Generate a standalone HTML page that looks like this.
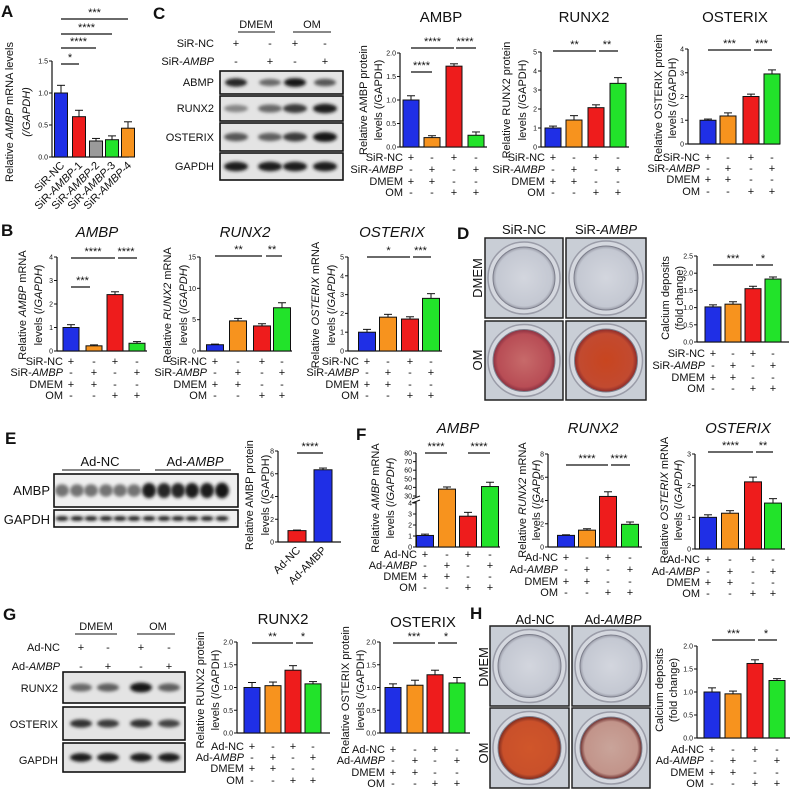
<!DOCTYPE html>
<html><head><meta charset="utf-8">
<style>
html,body{margin:0;padding:0;background:#fff;}
svg{display:block;font-family:"Liberation Sans",Arial,sans-serif;}
</style></head>
<body>
<svg id="fig" width="791" height="790" viewBox="0 0 791 790">
<defs>
<filter id="blur1" x="-20%" y="-50%" width="140%" height="200%"><feGaussianBlur stdDeviation="1.6"/></filter>
<radialGradient id="dishGray" cx="50%" cy="50%" r="50%"><stop offset="0" stop-color="#d3d6de"/><stop offset="0.9" stop-color="#c4c8d2"/><stop offset="1" stop-color="#9a9ca8"/></radialGradient>
<radialGradient id="dishRed1" cx="50%" cy="50%" r="50%"><stop offset="0" stop-color="#c76a6a"/><stop offset="0.85" stop-color="#b84d55"/><stop offset="1" stop-color="#8a3040"/></radialGradient>
<radialGradient id="dishRed2" cx="50%" cy="50%" r="50%"><stop offset="0" stop-color="#c8451f"/><stop offset="0.85" stop-color="#c24a30"/><stop offset="1" stop-color="#8a2a2a"/></radialGradient>
<radialGradient id="dishRed3" cx="50%" cy="50%" r="50%"><stop offset="0" stop-color="#d0562a"/><stop offset="0.85" stop-color="#c9502a"/><stop offset="1" stop-color="#7a2a20"/></radialGradient>
<radialGradient id="dishRed4" cx="50%" cy="50%" r="50%"><stop offset="0" stop-color="#c9a49a"/><stop offset="0.85" stop-color="#c2948a"/><stop offset="1" stop-color="#6a2a2a"/></radialGradient>
</defs>
</svg>
<script>
// ---------- data ----------
const C_BLUE='#1f2fe6', C_ORANGE='#f7931e', C_RED='#ee1c1c', C_GREEN='#22e32a', C_GRAY='#9a9a9a';
const aCats=['SiR-NC','SiR-AMBP-1','SiR-AMBP-2','SiR-AMBP-3','SiR-AMBP-4'];
const aVals=[1.0,0.63,0.25,0.27,0.45];
const aSem=[0.12,0.1,0.04,0.06,0.1];
const aTicks=[0,0.5,1.0,1.5];
const cAmbpVals=[1.0,0.2,1.72,0.25];
const cAmbpSem=[0.09,0.04,0.05,0.07];
const cAmbpTicks=[0,0.5,1.0,1.5,2.0];
const cRunxVals=[1.0,1.42,2.07,3.35];
const cRunxSem=[0.1,0.23,0.15,0.3];
const cRunxTicks=[0,1,2,3,4,5];
const cOstVals=[1.0,1.18,2.0,2.95];
const cOstSem=[0.05,0.13,0.1,0.17];
const cOstTicks=[0,1,2,3,4];
const bAmbpVals=[1.0,0.22,2.4,0.33];
const bAmbpSem=[0.12,0.04,0.12,0.07];
const bAmbpTicks=[0,1,2,3,4];
const bRunxVals=[1.0,4.8,4.0,6.9];
const bRunxSem=[0.1,0.4,0.35,0.8];
const bRunxTicks=[0,5,10,15];
const bOstVals=[1.0,1.8,1.7,2.8];
const bOstSem=[0.15,0.15,0.12,0.25];
const bOstTicks=[0,1,2,3,4,5];
const dVals=[1.02,1.1,1.55,1.83];
const dSem=[0.06,0.07,0.07,0.06];
const dTicks=[0,0.5,1.0,1.5,2.0,2.5];
const eCats=['Ad-NC','Ad-AMBP'];
const eVals=[1.0,6.35];
const eSem=[0.05,0.15];
const eTicks=[0,2,4,6,8];
const fAmbpVals=[1.05,38,2.8,41];
const fAmbpSem=[0.12,2.5,0.35,5];
const fAmbpTicksLow=[0,1,2,3,4];
const fAmbpTicksHigh=[30,40,50,60,70,80];
const fRunxVals=[1.0,1.45,4.35,1.95];
const fRunxSem=[0.05,0.12,0.4,0.2];
const fRunxTicks=[0,2,4,6,8];
const fOstVals=[1.0,1.13,2.12,1.45];
const fOstSem=[0.08,0.08,0.15,0.14];
const fOstTicks=[0,1,2,3];
const gRunxVals=[1.0,1.04,1.38,1.08];
const gRunxSem=[0.11,0.08,0.1,0.05];
const gOstVals=[1.0,1.05,1.28,1.1];
const gOstSem=[0.08,0.11,0.1,0.12];
const gTicks=[0,0.5,1.0,1.5,2.0];
const hVals=[1.0,0.96,1.62,1.25];
const hSem=[0.09,0.06,0.08,0.04];
const hTicks=[0,0.5,1.0,1.5,2.0];
const rowSiR=['SiR-NC','SiR-AMBP','DMEM','OM'];
const rowAd=['Ad-NC','Ad-AMBP','DMEM','OM'];
const rowMarks=[['+','-','+','-'],['-','+','-','+'],['+','+','-','-'],['-','-','+','+']];
const fourColors=[C_BLUE,C_ORANGE,C_RED,C_GREEN];

// ---------- helpers ----------
const NS='http://www.w3.org/2000/svg';
const svg=document.getElementById('fig');
function mk(tag,parent){const e=document.createElementNS(NS,tag);parent.appendChild(e);return e;}
function set(e,k,v){e.setAttribute(k,v);return e;}
function txt(parent,s,x,y,size,anchor){
  const t=mk('text',parent);
  set(t,'x',x);set(t,'y',y);set(t,'font-size',size);set(t,'text-anchor',anchor||'start');set(t,'fill','#111');
  t.textContent=s;return t;
}
// segments: [[text,italic],...]
function rich(parent,segs,x,y,size,anchor,rot){
  const t=mk('text',parent);
  set(t,'x',x);set(t,'y',y);set(t,'font-size',size);set(t,'text-anchor',anchor||'middle');set(t,'fill','#111');
  if(rot) set(t,'transform','rotate('+rot+' '+x+' '+y+')');
  segs.forEach(s=>{const ts=mk('tspan',t);ts.textContent=s[0];if(s[1])set(ts,'font-style','italic');});
  return t;
}
function ambpLabel(prefix){return [[prefix,0],['AMBP',1]];}
function panelLetter(ch,x,y){
  const t=txt(svg,ch,x,y,17,'start');set(t,'font-weight','bold');
  
  
}
function line(p,x1,y1,x2,y2,w,c){const l=mk('line',p);set(l,'x1',x1);set(l,'y1',y1);set(l,'x2',x2);set(l,'y2',y2);set(l,'stroke',c||'#111');set(l,'stroke-width',w||1);return l;}

function chart(cfg){
  const g=mk('g',svg);
  
  
  const scale=cfg.scale||(v=>cfg.y0-v/cfg.max*(cfg.y0-cfg.yTop));
  // axes
  const ya=line(g,cfg.ax,cfg.yTop,cfg.ax,cfg.y0,1.2);
  
  
  const xa=line(g,cfg.ax,cfg.y0,cfg.axEnd,cfg.y0,1.2);
  
  
  cfg.ticks.forEach(v=>{
    const y=scale(v);
    line(g,cfg.ax-3,y,cfg.ax,y,1);
    const t=txt(g,v.toFixed(cfg.dec||0),cfg.ax-4,y+2.5,7,'end');
    
    
  });
  if(cfg.extraAxis) cfg.extraAxis(g,scale);
  // bars
  cfg.vals.forEach((v,i)=>{
    const cx=cfg.centers[i], w=cfg.bw, yv=scale(v);
    const r=mk('rect',g);
    set(r,'x',cx-w/2);set(r,'y',yv);set(r,'width',w);set(r,'height',cfg.y0-yv);
    set(r,'fill',cfg.colors[i]);set(r,'stroke','#111');set(r,'stroke-width',1);
    
    
    const ye=scale(v+cfg.sem[i]);
    line(g,cx,yv,cx,ye,1);line(g,cx-4,ye,cx+4,ye,1);
  });
  // title
  if(cfg.title){
    const t=rich(g,[[cfg.title,cfg.titleItalic]],cfg.titleX,cfg.titleY,15,'middle');
    
    
  }
  // y titles
  cfg.ytitle.forEach(yt=>{
    const t=rich(g,yt.segs,yt.x+4,cfg.ycy,11,'middle',-90);
    
    
  });
  // significance
  (cfg.sig||[]).forEach(s=>{
    line(g,cfg.centers[s[0]]-(s[3]||0),s[2],cfg.centers[s[1]]+(s[4]||0),s[2],1.2);
    const t=txt(g,s[5],(cfg.centers[s[0]]+cfg.centers[s[1]])/2,s[2]-3,11,'middle');
    
    
  });
  // condition rows
  if(cfg.rows){
    cfg.rows.forEach((lab,ri)=>{
      const y=cfg.rowYs[ri];
      let segs=[[lab,0]];
      if(lab.indexOf('AMBP')>0) segs=ambpLabel(lab.replace('AMBP',''));
      const t=rich(g,segs,cfg.centers[0]-8,y,11,'end');
      
      
      rowMarks[ri].forEach((m,i)=>{txt(g,m,cfg.centers[i],y,11,'middle');});
    });
  }
  // rotated x labels
  if(cfg.xcats){
    cfg.xcats.forEach((c,i)=>{
      let segs=[[c,0]];
      if(cfg.italicCats){const k=c.indexOf('AMBP');if(k>=0)segs=[[c.slice(0,k),0],['AMBP',1],[c.slice(k+4),0]];}
      const t=rich(g,segs,cfg.centers[i]+4,cfg.y0+9,11,'end',-45);
      
      
    });
  }
  return g;
}

function blot(name,x,y,w,h,lanes,intens,bw,bh,bg){
  const g=mk('g',svg);
  
  
  const r=mk('rect',g);set(r,'x',x);set(r,'y',y);set(r,'width',w);set(r,'height',h);set(r,'fill',bg||'#e4e4e4');set(r,'stroke','#111');set(r,'stroke-width',1.6);
  lanes.forEach((lx,i)=>{
    const e=mk('ellipse',g);set(e,'cx',lx);set(e,'cy',y+h/2);set(e,'rx',bw/2);set(e,'ry',bh/2*(0.6+0.4*intens[i]));
    set(e,'fill','rgb('+Math.round(200-190*intens[i])+','+Math.round(200-190*intens[i])+','+Math.round(200-190*intens[i])+')');
    set(e,'filter','url(#blur1)');
  });
}
function dish(name,x,y,w,h,fill){
  const g=mk('g',svg);
  
  
  const r=mk('rect',g);set(r,'x',x);set(r,'y',y);set(r,'width',w);set(r,'height',h);set(r,'fill','#c9ced6');set(r,'stroke','#222');set(r,'stroke-width',1.5);
  const c=mk('circle',g);set(c,'cx',x+w/2);set(c,'cy',y+h/2);set(c,'r',Math.min(w,h)/2-3);set(c,'fill','#d5d8df');set(c,'stroke','#9a9ca8');set(c,'stroke-width',1.5);
  const c2=mk('circle',g);set(c2,'cx',x+w/2);set(c2,'cy',y+h/2);set(c2,'r',Math.min(w,h)/2-8);set(c2,'fill',fill);set(c2,'stroke','#7d7f8c');set(c2,'stroke-width',1);
}

// ---------- Panel A ----------
panelLetter('A',1,17);
chart({name:'panel-a-chart',ax:52,axEnd:129,y0:157,yTop:61,max:1.5,ticks:aTicks,dec:1,
  centers:[61,79,96,112,128],bw:13,vals:aVals,sem:aSem,colors:[C_BLUE,C_RED,C_GRAY,C_GREEN,C_ORANGE],
  ytitle:[{x:9,segs:[['Relative ',0],['AMBP',1],[' mRNA levels',0]]},{x:26,segs:[['(/GAPDH)',1]]}],ycy:112,
  sig:[[0,1,64,0,0,'*'],[0,2,48,0,0,'****'],[0,3,34,0,0,'****'],[0,4,19,0,0,'***']],
  xcats:aCats,italicCats:true});

// ---------- Panel C ----------
panelLetter('C',153,19);
(function(){
  const g=mk('g',svg);
  
  
  txt(g,'DMEM',256,28,11,'middle');line(g,238,32,275,32,1);
  txt(g,'OM',312,28,11,'middle');line(g,293,32,331,32,1);
  txt(g,'SiR-NC',214,47,11,'end');rich(g,[['SiR-',0],['AMBP',1]],214,65,11,'end');
  ['+','-','+','-'].forEach((m,i)=>txt(g,m,[236,270,295,325][i],47,11,'middle'));
  ['-','+','-','+'].forEach((m,i)=>txt(g,m,[236,270,295,325][i],65,11,'middle'));
  txt(g,'ABMP',214,86,11,'end');txt(g,'RUNX2',214,112,11,'end');txt(g,'OSTERIX',214,141,11,'end');txt(g,'GAPDH',214,170,11,'end');
})();
blot('blot-c-abmp',220,71,123,23,[236,270,295,325],[0.85,0.5,0.95,0.6],22,9);
blot('blot-c-runx2',220,96,123,25,[236,270,295,325],[0.35,0.5,0.75,0.9],24,10);
blot('blot-c-osterix',220,123,123,28,[236,270,295,325],[0.6,0.55,0.75,0.95],24,10);
blot('blot-c-gapdh',220,153,123,27,[236,270,295,325],[0.9,0.9,0.9,0.9],24,10);
chart({name:'panel-c-ambp-chart',ax:400,axEnd:487,y0:147,yTop:53,max:2,ticks:cAmbpTicks,dec:1,
  centers:[411,432,454,476],bw:16,vals:cAmbpVals,sem:cAmbpSem,colors:fourColors,
  title:'AMBP',titleX:441,titleY:22,
  ytitle:[{x:363,segs:[['Relative AMBP protein',0]]},{x:378,segs:[['levels (/GAPDH)',0]]}],ycy:100,
  sig:[[0,2,48,0,0,'****'],[2,3,48,-2,0,'****'],[0,1,72,0,0,'****']],
  rows:rowSiR,rowYs:[161,173,185,196]});
chart({name:'panel-c-runx2-chart',ax:541,axEnd:629,y0:147,yTop:52,max:5,ticks:cRunxTicks,
  centers:[553,574,596,618],bw:16,vals:cRunxVals,sem:cRunxSem,colors:fourColors,
  title:'RUNX2',titleX:584,titleY:22,
  ytitle:[{x:506,segs:[['Relative RUNX2 protein',0]]},{x:522,segs:[['levels (/GAPDH)',0]]}],ycy:100,
  sig:[[0,2,51,0,0,'**'],[2,3,51,-3,0,'**']],
  rows:rowSiR,rowYs:[161,173,185,196]});
chart({name:'panel-c-osterix-chart',ax:688,axEnd:780,y0:144,yTop:49,max:4,ticks:cOstTicks,
  centers:[708,728,751,772],bw:16,vals:cOstVals,sem:cOstSem,colors:fourColors,
  title:'OSTERIX',titleX:735,titleY:22,
  ytitle:[{x:658,segs:[['Relative OSTERIX protein',0]]},{x:672,segs:[['levels (/GAPDH)',0]]}],ycy:98,
  sig:[[0,2,50,0,0,'***'],[2,3,50,-3,0,'***']],
  rows:rowSiR,rowYs:[161,172,183,195]});

// ---------- Panel B ----------
panelLetter('B',1,236);
chart({name:'panel-b-ambp-chart',ax:57,axEnd:147,y0:351,yTop:257,max:4,ticks:bAmbpTicks,
  centers:[71,94,115,137],bw:16,vals:bAmbpVals,sem:bAmbpSem,colors:[C_BLUE,C_ORANGE,C_RED,C_GREEN],
  title:'AMBP',titleItalic:1,titleX:97,titleY:237,
  ytitle:[{x:22,segs:[['Relative ',0],['AMBP',1],[' mRNA',0]]},{x:38,segs:[['levels (/',0],['GAPDH',1],[')',0]]}],ycy:305,
  sig:[[0,2,258,0,0,'****'],[2,3,258,-3,0,'****'],[0,1,287,0,-4,'***']],
  rows:rowSiR,rowYs:[365,376,388,399]});
chart({name:'panel-b-runx2-chart',ax:200,axEnd:292,y0:351,yTop:257,max:15,ticks:bRunxTicks,
  centers:[215,238,262,282],bw:17,vals:bRunxVals,sem:bRunxSem,colors:fourColors,
  title:'RUNX2',titleItalic:1,titleX:245,titleY:237,
  ytitle:[{x:167,segs:[['Relative ',0],['RUNX2',1],[' mRNA',0]]},{x:183,segs:[['levels (/',0],['GAPDH',1],[')',0]]}],ycy:305,
  sig:[[0,2,256,0,0,'**'],[2,3,256,-4,0,'**']],
  rows:rowSiR,rowYs:[365,376,388,399]});
chart({name:'panel-b-osterix-chart',ax:348,axEnd:442,y0:351,yTop:257,max:5,ticks:bOstTicks,
  centers:[367,388,410,431],bw:17,vals:bOstVals,sem:bOstSem,colors:fourColors,
  title:'OSTERIX',titleItalic:1,titleX:392,titleY:237,
  ytitle:[{x:315,segs:[['Relative ',0],['OSTERIX',1],[' mRNA',0]]},{x:331,segs:[['levels (/',0],['GAPDH',1],[')',0]]}],ycy:305,
  sig:[[0,2,257,0,0,'*'],[2,3,257,-3,0,'***']],
  rows:rowSiR,rowYs:[365,376,388,399]});

// ---------- Panel D ----------
panelLetter('D',457,239);
(function(){
  const g=mk('g',svg);
  
  
  txt(g,'SiR-NC',524,234,13,'middle');rich(g,[['SiR-',0],['AMBP',1]],606,234,13,'middle');
  rich(g,[['DMEM',0]],482,278,13,'middle',-90);rich(g,[['OM',0]],482,360,13,'middle',-90);
})();
dish('dish-d-nc-dmem',485,238,78,80,'url(#dishGray)');
dish('dish-d-ambp-dmem',566,238,80,80,'url(#dishGray)');
dish('dish-d-nc-om',485,321,78,79,'url(#dishRed1)');
dish('dish-d-ambp-om',566,321,80,79,'url(#dishRed2)');
chart({name:'panel-d-chart',ax:697,axEnd:789,y0:342,yTop:256,max:2.5,ticks:dTicks,dec:1,
  centers:[713,733,753,773],bw:16,vals:dVals,sem:dSem,colors:fourColors,
  ytitle:[{x:665,segs:[['Calcium deposits',0]]},{x:679,segs:[['(fold change)',0]]}],ycy:298,
  sig:[[0,2,265,0,0,'***'],[2,3,265,-3,0,'*']],
  rows:rowSiR,rowYs:[357,369,381,392]});

// ---------- Panel E ----------
panelLetter('E',5,444);
(function(){
  const g=mk('g',svg);
  
  
  txt(g,'Ad-NC',100,466,13,'middle');line(g,62,470,140,470,1);
  rich(g,[['Ad-',0],['AMBP',1]],195,466,13,'middle');line(g,155,470,231,470,1);
  txt(g,'AMBP',50,495,13,'end');txt(g,'GAPDH',50,524,13,'end');
})();
(function(){
  const L=[62,77,91,106,120,134,149,164,178,192,207,222];
  blot('blot-e-ambp',54,474,184,33,L,[0.45,0.45,0.45,0.45,0.45,0.45,0.9,0.85,0.85,0.9,0.9,0.95],14,16,'#f0f0f0');
  blot('blot-e-gapdh',54,510,184,17,L,[0.9,0.9,0.9,0.9,0.9,0.9,0.9,0.9,0.9,0.9,0.9,0.9],13,5,'#f0f0f0');
})();
chart({name:'panel-e-chart',ax:278,axEnd:341,y0:542,yTop:451,max:8,ticks:eTicks,
  centers:[297,323],bw:18,vals:eVals,sem:eSem,colors:[C_RED,C_BLUE],
  ytitle:[{x:249,segs:[['Relative AMBP protein',0]]},{x:265,segs:[['levels (/GAPDH)',0]]}],ycy:495,
  sig:[[0,1,453,0,0,'****']],
  xcats:eCats});

// ---------- Panel F ----------
panelLetter('F',356,440);
chart({name:'panel-f-ambp-chart',ax:416,axEnd:500,y0:547,yTop:453,max:4,
  scale:v=>v<=4?547-v/4*44:496-(v-30)/50*43,
  ticks:fAmbpTicksLow.concat(fAmbpTicksHigh),
  extraAxis:(g,s)=>{const r=mk('rect',g);set(r,'x',412);set(r,'y',497);set(r,'width',8);set(r,'height',5);set(r,'fill','#fff');line(g,412,499,420,496,1);line(g,412,503,420,500,1);},
  centers:[425,447,468,490],bw:17,vals:fAmbpVals,sem:fAmbpSem,colors:fourColors,
  title:'AMBP',titleItalic:1,titleX:458,titleY:433,
  ytitle:[{x:375,segs:[['Relative ',0],['AMBP',1],[' mRNA',0]]},{x:390,segs:[['levels (/',0],['GAPDH',1],[')',0]]}],ycy:498,
  sig:[[0,1,453,0,0,'****'],[2,3,453,0,0,'****']],
  rows:rowAd,rowYs:[558,569,580,591]});
chart({name:'panel-f-runx2-chart',ax:548,axEnd:642,y0:547,yTop:454,max:8,ticks:fRunxTicks,
  centers:[566,587,608,630],bw:17,vals:fRunxVals,sem:fRunxSem,colors:fourColors,
  title:'RUNX2',titleItalic:1,titleX:593,titleY:433,
  ytitle:[{x:522,segs:[['Relative ',0],['RUNX2',1],[' mRNA',0]]},{x:536,segs:[['levels (/',0],['GAPDH',1],[')',0]]}],ycy:500,
  sig:[[0,2,465,0,0,'****'],[2,3,465,-3,0,'****']],
  rows:rowAd,rowYs:[561,573,585,596]});
chart({name:'panel-f-osterix-chart',ax:695,axEnd:785,y0:549,yTop:454,max:3,ticks:fOstTicks,
  centers:[708,730,753,773],bw:17,vals:fOstVals,sem:fOstSem,colors:fourColors,
  title:'OSTERIX',titleItalic:1,titleX:738,titleY:433,
  ytitle:[{x:664,segs:[['Relative ',0],['OSTERIX',1],[' mRNA',0]]},{x:678,segs:[['levels (/',0],['GAPDH',1],[')',0]]}],ycy:500,
  sig:[[0,2,452,0,0,'****'],[2,3,452,-3,0,'**']],
  rows:rowAd,rowYs:[563,575,586,597]});

// ---------- Panel G ----------
panelLetter('G',3,620);
(function(){
  const g=mk('g',svg);
  
  
  txt(g,'DMEM',96,630,11,'middle');line(g,75,634,117,634,1);
  txt(g,'OM',158,630,11,'middle');line(g,137,634,175,634,1);
  txt(g,'Ad-NC',60,651,11,'end');rich(g,[['Ad-',0],['AMBP',1]],60,670,11,'end');
  ['+','-','+','-'].forEach((m,i)=>txt(g,m,[81,108,141,169][i],651,11,'middle'));
  ['-','+','-','+'].forEach((m,i)=>txt(g,m,[81,108,141,169][i],670,11,'middle'));
  txt(g,'RUNX2',58,692,11,'end');txt(g,'OSTERIX',58,728,11,'end');txt(g,'GAPDH',58,764,11,'end');
})();
blot('blot-g-runx2',63,672,122,31,[81,108,141,169],[0.5,0.55,0.95,0.55],22,10);
blot('blot-g-osterix',63,707,122,33,[81,108,141,169],[0.8,0.75,0.8,0.7],22,9);
blot('blot-g-gapdh',63,743,122,29,[81,108,141,169],[0.9,0.9,0.9,0.9],22,9);
chart({name:'panel-g-runx2-chart',ax:237,axEnd:330,y0:733,yTop:642,max:2,ticks:gTicks,dec:1,
  centers:[252,273,293,313],bw:16,vals:gRunxVals,sem:gRunxSem,colors:fourColors,
  title:'RUNX2',titleX:283,titleY:624,
  ytitle:[{x:200,segs:[['Relative RUNX2 protein',0]]},{x:215,segs:[['levels (/GAPDH)',0]]}],ycy:690,
  sig:[[0,2,643,0,0,'**'],[2,3,643,-3,0,'*']],
  rows:rowAd,rowYs:[750,761,772,784]});
chart({name:'panel-g-osterix-chart',ax:380,axEnd:470,y0:733,yTop:642,max:2,ticks:gTicks,dec:1,
  centers:[393,415,435,457],bw:16,vals:gOstVals,sem:gOstSem,colors:fourColors,
  title:'OSTERIX',titleX:423,titleY:627,
  ytitle:[{x:345,segs:[['Relative OSTERIX protein',0]]},{x:360,segs:[['levels (/GAPDH)',0]]}],ycy:690,
  sig:[[0,2,643,0,0,'***'],[2,3,643,-3,0,'*']],
  rows:rowAd,rowYs:[753,764,776,787]});

// ---------- Panel H ----------
panelLetter('H',470,619);
(function(){
  const g=mk('g',svg);
  
  
  txt(g,'Ad-NC',535,624,13,'middle');rich(g,[['Ad-',0],['AMBP',1]],613,624,13,'middle');
  rich(g,[['DMEM',0]],488,667,13,'middle',-90);rich(g,[['OM',0]],488,753,13,'middle',-90);
})();
dish('dish-h-nc-dmem',490,626,79,80,'url(#dishGray)');
dish('dish-h-ambp-dmem',572,626,78,80,'url(#dishGray)');
dish('dish-h-nc-om',490,708,79,80,'url(#dishRed3)');
dish('dish-h-ambp-om',572,708,78,80,'url(#dishRed4)');
chart({name:'panel-h-chart',ax:697,axEnd:790,y0:738,yTop:646,max:2,ticks:hTicks,dec:1,
  centers:[712,733,755,777],bw:16,vals:hVals,sem:hSem,colors:fourColors,
  ytitle:[{x:659,segs:[['Calcium deposits',0]]},{x:673,segs:[['(fold change)',0]]}],ycy:690,
  sig:[[0,2,640,0,0,'***'],[2,3,640,-3,0,'*']],
  rows:rowAd,rowYs:[753,764,776,787]});
</script>
</body></html>
